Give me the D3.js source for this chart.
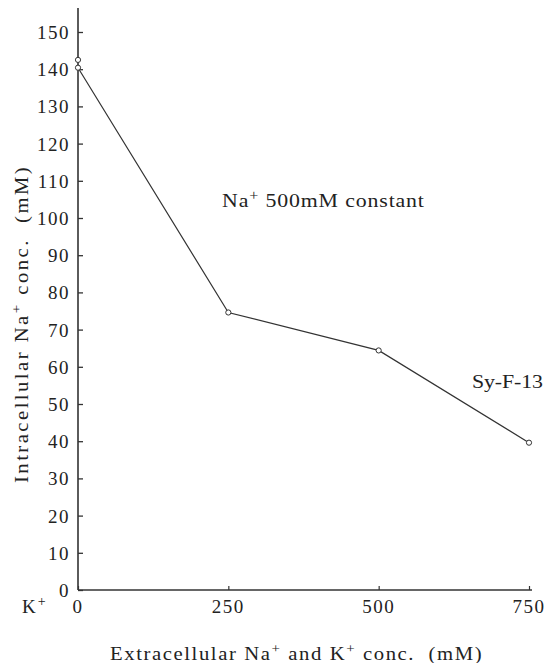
<!DOCTYPE html>
<html>
<head>
<meta charset="utf-8">
<script src="https://cdn.jsdelivr.net/npm/d3@7"></script>
<style>
body{margin:0;background:#fff;}
text{font-family:"Liberation Serif","Times New Roman",serif;fill:#222;}
</style>
</head>
<body>
<svg width="548" height="663"></svg>
<script>
// data
var conc = [0, 250, 500, 750];
var intraNa = [142.5, 74.6, 64.4, 39.6];
var extraPoint = [0, 140.4];
var yTicks = [0,10,20,30,40,50,60,70,80,90,100,110,120,130,140,150];
var xTicks = [0, 250, 500, 750];

var svg = d3.select("svg");
var x = d3.scaleLinear().domain([0,750]).range([78,529]);
var y = d3.scaleLinear().domain([0,150]).range([590,32]);

// the printed type is wider than Times: stretch glyphs a little, then spread letters
// text is drawn at the origin inside g; g carries the placement
function widen(g, sel, target){
    var sx = 1.15;
    var n = sel.text().length;
    var w = sel.node().getComputedTextLength() * sx;
    sel.attr("letter-spacing", ((target - w) / sx / Math.max(n-1,1)) + "px");
    sel.attr("transform", "scale(" + sx + ",1)");
}

// y axis
var yAxis = d3.axisRight(y).tickValues(yTicks).tickSize(5).tickFormat("");
var ga = svg.append("g").attr("transform","translate(78,0)").call(yAxis);
ga.select(".domain").remove();
ga.selectAll("line").attr("stroke","#333").attr("stroke-width",1.3);
svg.append("line").attr("x1",78).attr("x2",78).attr("y1",8).attr("y2",590)
    .attr("stroke","#333").attr("stroke-width",1.6);
svg.selectAll(".ylab").data(yTicks).enter().append("text")
    .attr("class","ylab")
    .attr("x",70).attr("y",function(d){return y(d)+7;})
    .attr("text-anchor","end").attr("font-size",19).attr("letter-spacing","1.5px")
    .text(function(d){return d;});

// x axis
var xAxis = d3.axisTop(x).tickValues(xTicks).tickSize(4).tickFormat("");
var gx = svg.append("g").attr("transform","translate(0,590)").call(xAxis);
gx.select(".domain").remove();
gx.selectAll("line").attr("stroke","#333").attr("stroke-width",1.2);
svg.append("line").attr("x1",78).attr("x2",532).attr("y1",590).attr("y2",590)
    .attr("stroke","#333").attr("stroke-width",1.6);
svg.selectAll(".xlab").data(xTicks).enter().append("text")
    .attr("class","xlab")
    .attr("x",function(d){return x(d);}).attr("y",613)
    .attr("text-anchor","middle").attr("font-size",19).attr("letter-spacing","1.5px")
    .text(function(d){return d;});

var k = svg.append("text").attr("x",22).attr("y",613).attr("font-size",19);
k.append("tspan").text("K");
k.append("tspan").attr("dx",2).attr("dy",-7).attr("font-size",14).text("+");

// data line
var pts = conc.map(function(c,i){return [c,intraNa[i]];});
var line = d3.line().x(function(d){return x(d[0]);}).y(function(d){return y(d[1]);});
svg.append("path").datum([extraPoint].concat(pts.slice(1)))
    .attr("d",line).attr("fill","none").attr("stroke","#333").attr("stroke-width",1.2);
svg.selectAll(".pt").data(pts.concat([extraPoint])).enter().append("circle")
    .attr("class","pt")
    .attr("cx",function(d){return x(d[0]);}).attr("cy",function(d){return y(d[1]);})
    .attr("r",2.6).attr("fill","#fff").attr("stroke","#333").attr("stroke-width",1);

// annotations
var ag = svg.append("g").attr("transform","translate(222,207)");
var a = ag.append("text").attr("font-size",19);
a.append("tspan").text("Na");
a.append("tspan").attr("dy",-7).attr("font-size",14).text("+");
a.append("tspan").attr("dy",7).text(" 500mM constant");
widen(ag, a, 202);

var sg = svg.append("g").attr("transform","translate(472,388)");
var s = sg.append("text").attr("font-size",19).text("Sy-F-13");
widen(sg, s, 71);

// axis titles
var xg = svg.append("g").attr("transform","translate(110,660)");
var xt = xg.append("text").attr("font-size",18);
xt.append("tspan").text("Extracellular Na");
xt.append("tspan").attr("dy",-7).attr("font-size",13).text("+");
xt.append("tspan").attr("dy",7).text(" and K");
xt.append("tspan").attr("dy",-7).attr("font-size",13).text("+");
xt.append("tspan").attr("dy",7).attr("xml:space","preserve").text(" conc.  (mM)");
widen(xg, xt, 372);

var yg = svg.append("g").attr("transform","translate(28,483) rotate(-90)");
var yt = yg.append("text").attr("font-size",18);
yt.append("tspan").text("Intracellular Na");
yt.append("tspan").attr("dy",-7).attr("font-size",13).text("+");
yt.append("tspan").attr("dy",7).attr("xml:space","preserve").text(" conc.  (mM)");
widen(yg, yt, 316);
</script>
</body>
</html>
